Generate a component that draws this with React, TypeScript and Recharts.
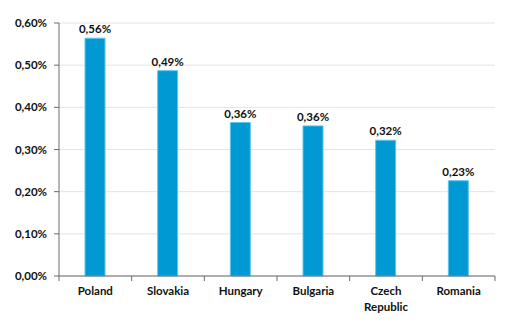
import { BarChart, Bar, XAxis, YAxis, CartesianGrid, LabelList } from "recharts";

const countries = ["Poland", "Slovakia", "Hungary", "Bulgaria", "Czech Republic", "Romania"];
const shares = [0.564, 0.487, 0.364, 0.356, 0.322, 0.226];
const yTicks = [0, 0.1, 0.2, 0.3, 0.4, 0.5, 0.6];

const data = countries.map((country, i) => ({ country, share: shares[i] }));

const FONT = "Lato, 'Open Sans', sans-serif";
const AXIS = "#6b6b6b";
const TEXT = { fontFamily: FONT, fontWeight: 700, fontSize: 11.5, fill: "#111" };

const pct = (v: number) => `${v.toFixed(2).replace(".", ",")}%`;

function CountryTick(props: any) {
  const { x, y, payload, index, visibleTicksCount } = props;
  const half = payload?.offset ?? 36;
  const words: string[] = String(payload.value).split(" ");
  const isLast = index === visibleTicksCount - 1;
  // y already sits below the default tick length, so pull the marks back up to the axis
  const axisY = y - 8;
  return (
    <g>
      <line x1={x - half} x2={x - half} y1={axisY} y2={axisY + 5} stroke={AXIS} />
      {isLast && <line x1={x + half} x2={x + half} y1={axisY} y2={axisY + 5} stroke={AXIS} />}
      <text x={x} y={y + 11} textAnchor="middle" {...TEXT}>
        {words.map((w, i) => (
          <tspan key={w} x={x} dy={i === 0 ? 0 : 16}>
            {w}
          </tspan>
        ))}
      </text>
    </g>
  );
}

export default function App() {
  return (
    <div style={{ position: "absolute", left: 0, top: 0, background: "#fff" }}>
      <BarChart
        width={512}
        height={327}
        data={data}
        margin={{ top: 23, right: 17, bottom: 0, left: 0 }}
      >
        <CartesianGrid vertical={false} stroke="#e4e4e4" />
        <XAxis
          dataKey="country"
          height={51}
          axisLine={{ stroke: AXIS }}
          tickLine={false}
          interval={0}
          tick={<CountryTick />}
        />
        <YAxis
          width={59}
          domain={[0, 0.6]}
          ticks={yTicks}
          tickFormatter={pct}
          axisLine={{ stroke: AXIS }}
          tickLine={{ stroke: AXIS }}
          tickSize={5}
          tickMargin={7}
          tick={TEXT}
        />
        <Bar dataKey="share" fill="#0099d4" stroke="#62c6ec" strokeWidth={1} barSize={20} isAnimationActive={false}>
          <LabelList
            dataKey="share"
            position="top"
            offset={5}
            formatter={(v: any) => pct(Number(v))}
            style={TEXT}
          />
        </Bar>
      </BarChart>
    </div>
  );
}
